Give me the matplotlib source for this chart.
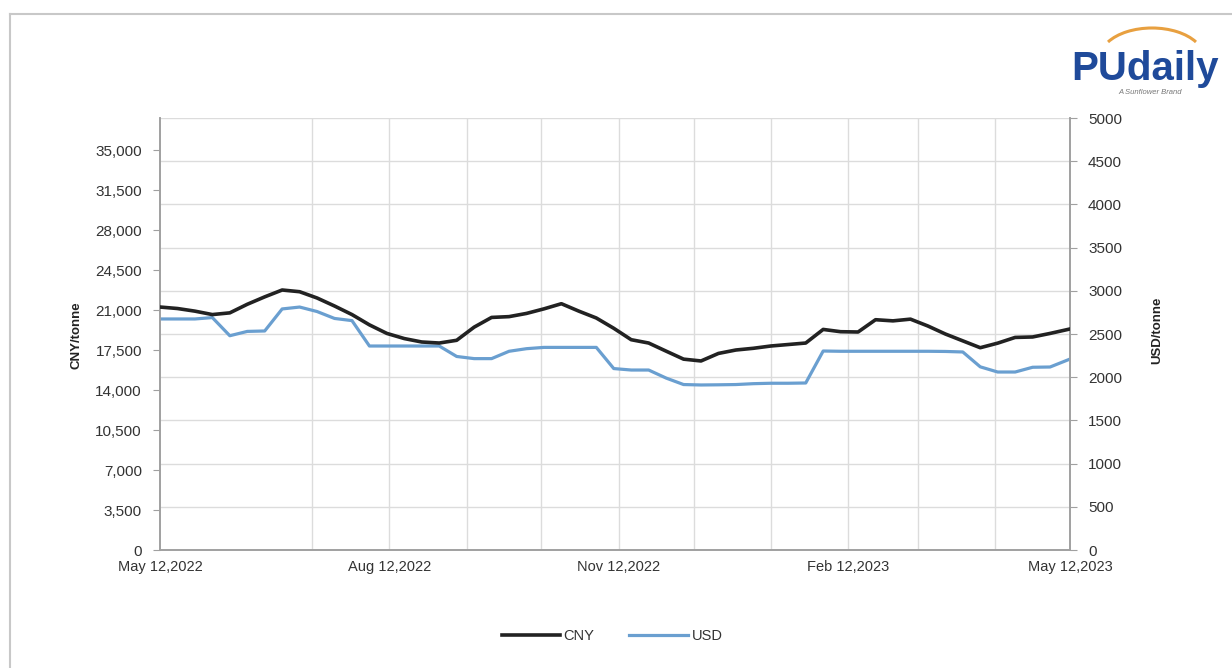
import matplotlib
matplotlib.use("Agg")
import matplotlib.pyplot as plt
from matplotlib.patches import Arc
from matplotlib.lines import Line2D
import pandas as pd

plt.rcParams['font.family'] = ['Liberation Sans', 'DejaVu Sans']

# ---- data ----
start_date = "2022-05-12"
n_weeks = 53
cny = [21260, 21130, 20900, 20600, 20750, 21500, 22150, 22750, 22600, 22050,
       21350, 20600, 19700, 18950, 18500, 18200, 18110, 18350, 19500, 20350,
       20420, 20700, 21100, 21550, 20900, 20300, 19400, 18400, 18110, 17400,
       16700, 16540, 17200, 17500, 17650, 17850, 17980, 18110, 19300, 19100,
       19075, 20150, 20050, 20200, 19600, 18900, 18300, 17700, 18100, 18600,
       18640, 18950, 19340]
usd = [2674, 2674, 2674, 2690, 2480, 2530, 2535, 2790, 2812, 2760,
       2680, 2655, 2361, 2361, 2361, 2361, 2361, 2240, 2215, 2215,
       2300, 2330, 2345, 2345, 2345, 2345, 2100, 2083, 2083, 1990,
       1915, 1910, 1912, 1915, 1925, 1930, 1930, 1933, 2303, 2300,
       2300, 2300, 2300, 2300, 2300, 2298, 2292, 2120, 2060, 2060,
       2115, 2118, 2210]
tick_dates = ["2022-05-12", "2022-08-12", "2022-11-12", "2023-02-12", "2023-05-12"]
tick_labels = ["May 12,2022", "Aug 12,2022", "Nov 12,2022", "Feb 12,2023", "May 12,2023"]
cny_ticks = list(range(0, 35001, 3500))
usd_ticks = list(range(0, 5001, 500))

dates = pd.date_range(start_date, periods=n_weeks, freq="7D")
dates = dates[:-1].append(pd.DatetimeIndex(["2023-05-12"]))

W, H = 1232, 668
fig = plt.figure(figsize=(W / 100, H / 100), dpi=100)
fig.patch.set_facecolor("white")

# outer frame
fig.add_artist(Line2D([10 / W, 10 / W], [0, 1 - 14 / H], transform=fig.transFigure,
                      color="#c8c8c8", lw=1.5))
fig.add_artist(Line2D([10 / W, 1], [1 - 14 / H, 1 - 14 / H], transform=fig.transFigure,
                      color="#c8c8c8", lw=1.5))

L, R, B, T = 160, 1070, 550, 118
ax = fig.add_axes([L / W, 1 - B / H, (R - L) / W, (B - T) / H])
ax2 = ax.twinx()

grid_c = "#dcdcdc"
axis_c = "#a0a0a0"
cny_c = "#222222"
usd_c = "#6a9fd0"

# lines
ax2.plot(dates, usd, color=usd_c, lw=2.3, zorder=3, solid_joinstyle="round")
ax.plot(dates, cny, color=cny_c, lw=2.6, zorder=4, solid_joinstyle="round")
ax.set_zorder(ax2.get_zorder() + 1)
ax.patch.set_visible(False)

x0 = pd.Timestamp("2022-05-12")
x1 = pd.Timestamp("2023-05-12")
ax.set_xlim(x0, x1)
ax.set_ylim(0, 37800)
ax2.set_ylim(0, 5000)

# gridlines (monthly vertical, horizontal from right axis)
months = pd.date_range("2022-06-12", "2023-04-12", freq="MS") + pd.Timedelta(days=11)
for m in months:
    ax2.axvline(m, color=grid_c, lw=1.0, zorder=0)
for v in usd_ticks[1:]:
    ax2.axhline(v, color=grid_c, lw=1.0, zorder=0)

ax.set_xticks(pd.to_datetime(tick_dates))
ax.set_xticklabels(tick_labels, fontsize=10.5, color="#333333")
ax.set_yticks(cny_ticks)
ax.set_yticklabels([f"{v:,}" for v in cny_ticks], fontsize=11, color="#333333")
ax2.set_yticks(usd_ticks)
ax2.set_yticklabels([str(v) for v in usd_ticks], fontsize=11, color="#333333")

ax.tick_params(axis="y", direction="out", length=5, color=axis_c, pad=8)
ax.tick_params(axis="x", direction="out", length=0, pad=7)
ax2.tick_params(axis="y", direction="out", length=5, color=axis_c, pad=8)

for a in (ax, ax2):
    a.spines["top"].set_visible(False)
    for s in ("left", "right", "bottom"):
        a.spines[s].set_color(axis_c)
        a.spines[s].set_linewidth(1.2)

fig.text(77 / W, 1 - 335 / H, "CNY/tonne", rotation=90, ha="center", va="center",
         fontsize=9.5, fontweight="bold", color="#222222")
fig.text(1157 / W, 1 - 330 / H, "USD/tonne", rotation=90, ha="center", va="center",
         fontsize=9.5, fontweight="bold", color="#222222")

# legend
handles = [Line2D([], [], color=cny_c, lw=2.6), Line2D([], [], color=usd_c, lw=2.3)]
fig.legend(handles, ["CNY", "USD"], loc="center", bbox_to_anchor=(612 / W, 1 - 636 / H),
           ncol=2, frameon=False, fontsize=10.5, handlelength=4.0, handletextpad=0.25,
           columnspacing=2.4, labelcolor="#333333")

# logo
fig.text(1145 / W, 1 - 80 / H, "PUdaily", ha="center", va="baseline", fontsize=29,
         fontweight="bold", color="#1f4a9a")
fig.text(1150 / W, 1 - 93 / H, "A Sunflower Brand", ha="center", va="center",
         fontsize=5.5, style="italic", color="#777777")
logo_ax = fig.add_axes([1090 / W, 1 - 60 / H, 120 / W, 40 / H])
logo_ax.set_xlim(0, 120)
logo_ax.set_ylim(0, 40)
logo_ax.axis("off")
logo_ax.add_patch(Arc((62, 2), 104, 60, theta1=20, theta2=160, color="#e8a040", lw=2.2))

fig.savefig("out.png", dpi=100, facecolor="white")
